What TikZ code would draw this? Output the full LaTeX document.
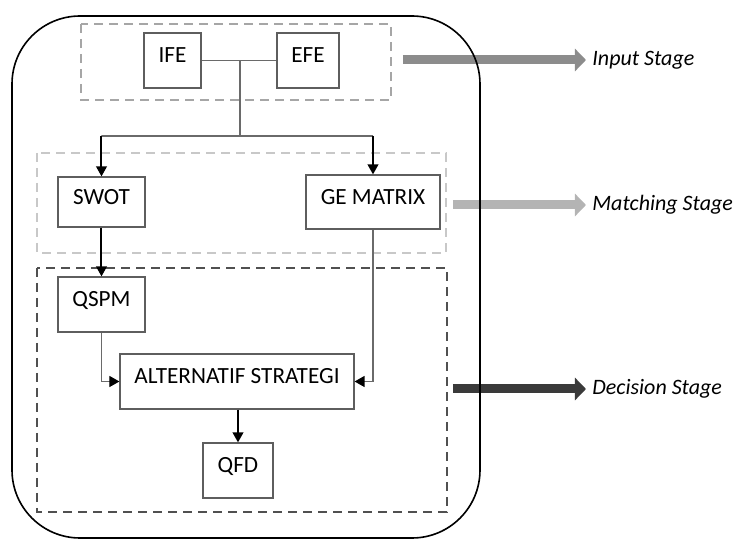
\documentclass[tikz,border=0pt]{standalone}
\usepackage{fontspec}
\setmainfont{Carlito}
\usetikzlibrary{arrows.meta}
\definecolor{boxGray}{HTML}{5E5E5E}
\definecolor{lineGray}{HTML}{6A6A6A}
\definecolor{inputGray}{HTML}{A6A6A6}
\definecolor{matchGray}{HTML}{C8C8C8}
\definecolor{decisionGray}{HTML}{505050}
\definecolor{inputFill}{HTML}{8C8C8C}
\definecolor{matchFill}{HTML}{B4B4B4}
\definecolor{decisionFill}{HTML}{3A3A3A}
\newcommand{\stepBox}[6]{%%
  %% A box: name, centre x, centre y, width, height, text.
  \node[boxStyle, minimum width=#4*0.5pt, minimum height=#5*0.5pt] (#1) at (#2,#3) {#6};
}
\newcommand{\stageArrow}[4]{%%
  %% An arrow out to the name of a stage: name, start x, y, colour.
  \coordinate (#1From) at (#2,#3);
  \node[stageTextStyle] (#1Label) at (\xlabel,#3) {#1 Stage};
  \draw[stageArrowStyle, draw=#4] (#1From) -- (#1Label.west);
}

\begin{document}
\begin{tikzpicture}[%%
  x=0.5pt, y=-0.5pt,%%
  boxStyle/.style={draw=boxGray,line width=0.6pt,fill=white,inner sep=0pt,%%
    text height=8.5pt,text depth=6pt,font=\fontsize{11.6}{13}\selectfont},%%
  linkStyle/.style={draw=lineGray,line width=0.6pt},%%
  arrowStyle/.style={draw=black,line width=1pt,-{Triangle[length=5pt,width=5.3pt]}},%%
  sideArrowStyle/.style={draw=lineGray,line width=0.6pt,%%
    -{Triangle[length=5pt,width=5.5pt,color=black]}},%%
  frameStyle/.style={line width=1pt,dash pattern=on 4.5pt off 3pt},%%
  outerStyle/.style={draw=black,line width=0.8pt,rounded corners=34pt},%%
  stageArrowStyle/.style={line width=4.5pt,-{Triangle[length=5.5pt,width=11pt]}},%%
  stageTextStyle/.style={anchor=west,inner sep=3pt,%%
    font=\itshape\fontsize{11}{13}\selectfont}%%
]
%%
%%
\useasboundingbox (0,0) rectangle (736,540);
\pgfmathsetmacro{\xlabel}{586}
%%
%% The dashed frames of the three stages.
\draw[frameStyle, draw=inputGray] (81,24) rectangle (391,100);
\draw[frameStyle, draw=matchGray] (37,153) rectangle (446,253);
\draw[frameStyle, draw=decisionGray] (37,268) rectangle (447,512);
%%
%% The boxes.
\stepBox{IFE}{172.5}{60.5}{57}{55}{IFE}
\stepBox{EFE}{308}{60.5}{62}{55}{EFE}
\stepBox{SWOT}{101.5}{202}{87}{50}{SWOT}
\stepBox{GE}{373}{202}{134}{54}{GE MATRIX}
\stepBox{QSPM}{101.5}{304.5}{87}{55}{QSPM}
\stepBox{ALT}{237}{381.5}{234}{55}{ALTERNATIF STRATEGI}
\stepBox{QFD}{238}{470.5}{70}{55}{QFD}
%%
%% The connectors.
\coordinate (join) at (240,60.5);
\coordinate (split) at (240,136);
\draw[linkStyle] (IFE) -- (EFE);
\draw[linkStyle] (join) -- (split);
\draw[linkStyle] (split) -- (SWOT.north |- split) -- (GE.north |- split);
\draw[arrowStyle] (SWOT.north |- split) -- (SWOT.north);
\draw[arrowStyle] (GE.north |- split) -- (GE.north);
\draw[arrowStyle] (SWOT) -- (QSPM);
\draw[sideArrowStyle] (QSPM.south) |- (ALT.west);
\draw[sideArrowStyle] (GE.south) |- (ALT.east);
\draw[arrowStyle] (ALT.south -| QFD.north) -- (QFD.north);
%%
%% The stages.
\stageArrow{Input}{403}{60}{inputFill}
\stageArrow{Matching}{453}{205}{matchFill}
\stageArrow{Decision}{453}{389}{decisionFill}
%%
%% The outer frame.
\draw[outerStyle] (12,16) rectangle (480,538);
\end{tikzpicture}
\end{document}
